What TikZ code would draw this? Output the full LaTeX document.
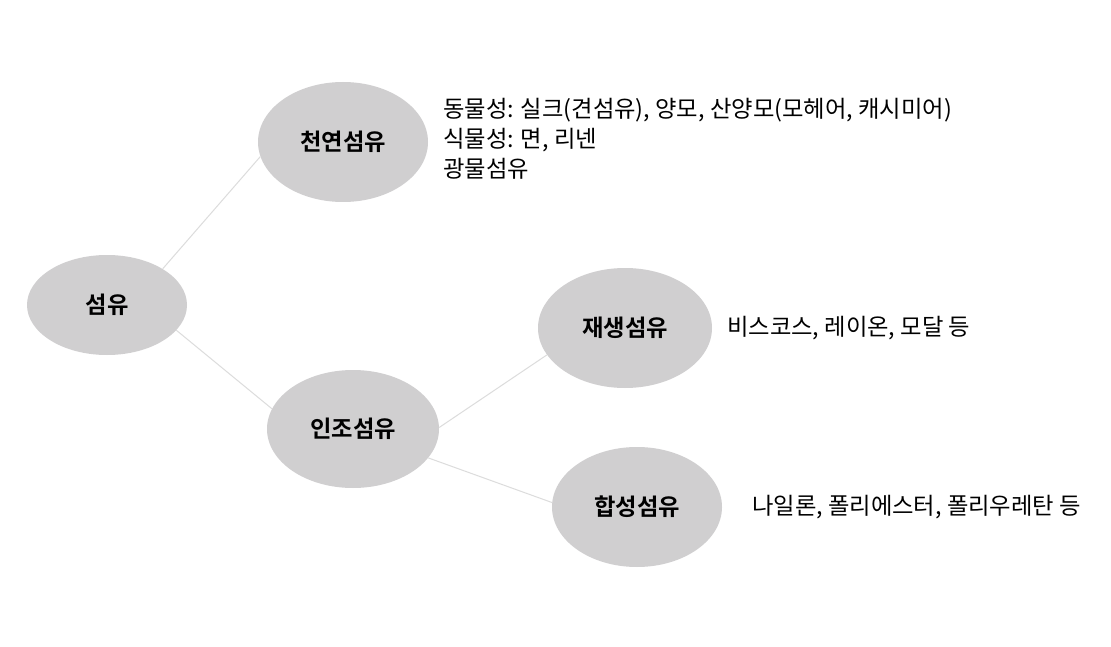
\documentclass[tikz,border=0pt]{standalone}
\usepackage{fontspec}
\setmainfont{Noto Sans CJK KR}[BoldFont={Noto Sans CJK KR Bold}]
\usetikzlibrary{shapes.geometric}
\definecolor{nodefill}{HTML}{D0CFD0}
\definecolor{linkgray}{HTML}{DCDCDC}
\begin{document}
\begin{tikzpicture}[x=1pt,y=-1pt,
  bubble/.style={ellipse,fill=nodefill,inner sep=0pt,font=\fontsize{23.3}{28}\selectfont\bfseries},
  link/.style={draw=linkgray,line width=1pt},
  note/.style={anchor=west,inner sep=0pt,align=left,font=\fontsize{23.3}{30}\selectfont}]
\useasboundingbox (0,0) rectangle (1111,647);
\fill[white] (0,0) rectangle (1111,647);
\node[bubble,minimum width=160,minimum height=100] (root) at (107,305) {섬유};
\node[bubble,minimum width=170,minimum height=120] (nat) at (343,142) {천연섬유};
\node[bubble,minimum width=172,minimum height=118] (man) at (353,429) {인조섬유};
\node[bubble,minimum width=174,minimum height=120] (regen) at (625,328) {재생섬유};
\node[bubble,minimum width=170,minimum height=120] (syn) at (637,507) {합성섬유};
\draw[link] (root.33) -- (nat.190);
\draw[link] (root.340) -- (man.166);
\draw[link] (man.1) -- (regen.199);
\draw[link] (man.339) -- (syn.177);
\node[note] (natnote) at (443,139) {동물성: 실크(견섬유), 양모, 산양모(모헤어, 캐시미어)\\식물성: 면, 리넨\\광물섬유};
\node[note] (regennote) at (727,328) {비스코스, 레이온, 모달 등};
\node[note] (synnote) at (752,507) {나일론, 폴리에스터, 폴리우레탄 등};
\end{tikzpicture}
\end{document}
